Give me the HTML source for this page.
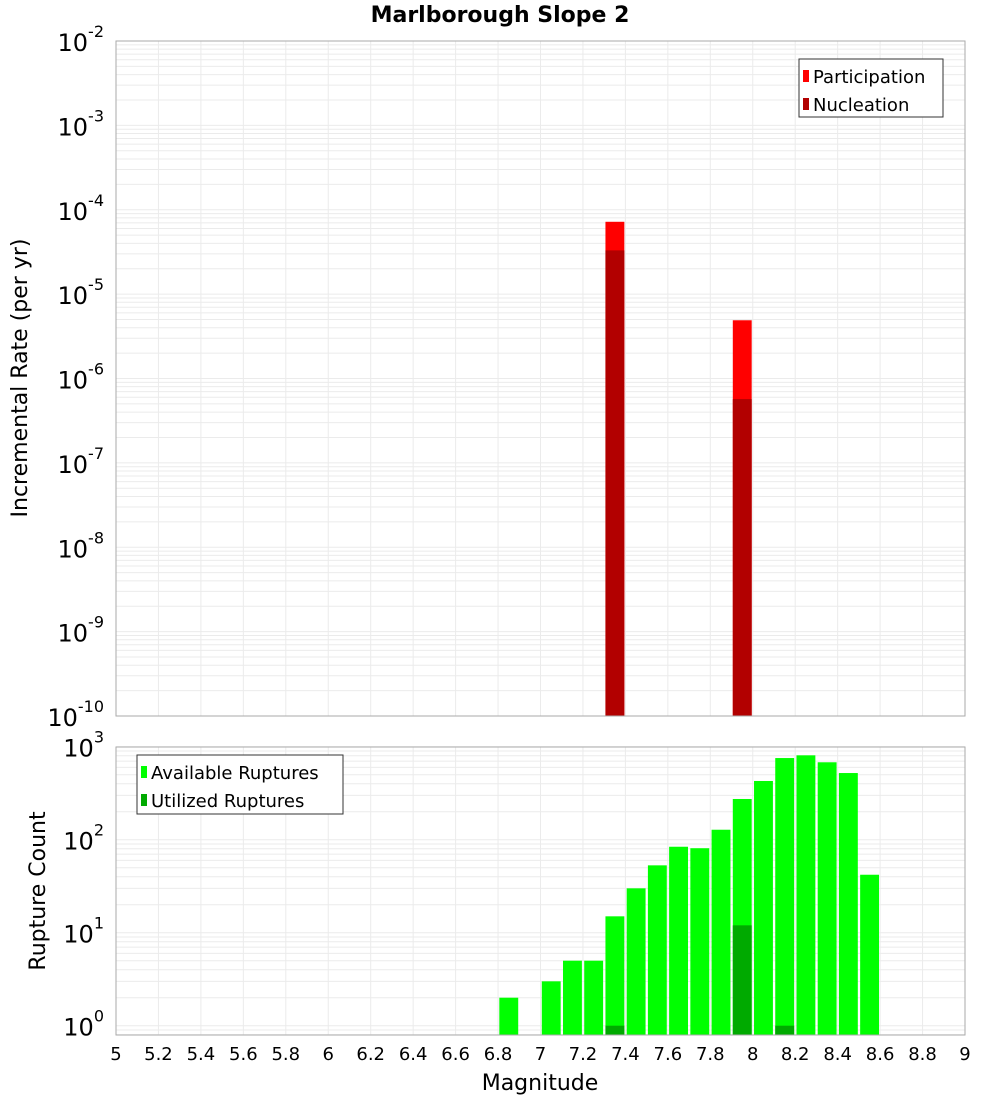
<!DOCTYPE html>
<html><head><meta charset="utf-8"><style>
body{margin:0;background:#fff;}
svg text{font-family:"DejaVu Sans","Liberation Sans",sans-serif;fill:#000;}
</style></head><body>
<svg id="c" width="1000" height="1100" xmlns="http://www.w3.org/2000/svg">
<rect width="1000" height="1100" fill="#fff"/>
<text x="500" y="22" text-anchor="middle" font-size="22" font-weight="bold">Marlborough Slope 2</text>
<text transform="translate(27,378) rotate(-90)" text-anchor="middle" font-size="22">Incremental Rate (per yr)</text>
<text transform="translate(45,891) rotate(-90)" text-anchor="middle" font-size="22">Rupture Count</text>
<text x="540" y="1090" text-anchor="middle" font-size="22">Magnitude</text>
<g id="g"></g>
</svg>
<script>
const rateMags=[7.35,7.95];
const participation=[7.2e-5,4.9e-6];
const nucleation=[3.3e-5,5.7e-7];
const countMags=[6.85,7.05,7.15,7.25,7.35,7.45,7.55,7.65,7.75,7.85,7.95,8.05,8.15,8.25,8.35,8.45,8.55];
const available=[2,3,5,5,15,30,53,84,81,128,274,428,755,808,680,521,42];
const utilizedMags=[7.35,7.95,8.15];
const utilized=[1,12,1];
const xTicks=[5,5.2,5.4,5.6,5.8,6,6.2,6.4,6.6,6.8,7,7.2,7.4,7.6,7.8,8,8.2,8.4,8.6,8.8,9];
const topExps=[-10,-9,-8,-7,-6,-5,-4,-3,-2];
const botExps=[0,1,2,3];

const NS="http://www.w3.org/2000/svg";
const g=document.getElementById('g');
function el(t,a,p){const e=document.createElementNS(NS,t);for(const k in a)e.setAttribute(k,a[k]);(p||g).appendChild(e);return e;}
const X0=116,X1=965;
const xs=m=>X0+(m-5)/(9-5)*(X1-X0);
const T0=41,T1=716;
const yTop=v=>T0+(-2-Math.log10(v))/8*(T1-T0);
const B0=746.7,DEC=93,BB=1035,BT=747;
const yBot=v=>B0+(3-Math.log10(v))*DEC;

function grid(yf,exps,top,bot){
  for(let i=0;i<exps.length;i++){
    for(let k=1;k<10;k++){
      const y=yf(k*Math.pow(10,exps[i]));
      if(y<top-0.5||y>bot+0.5)continue;
      const l=el('line',{x1:X0,x2:X1,y1:y,y2:y,stroke:'#ebebeb','stroke-width':1});
      
      
    }
  }
  xTicks.forEach(t=>{const x=xs(t);
    const l=el('line',{x1:x,x2:x,y1:top,y2:bot,stroke:'#ebebeb','stroke-width':1});
    
    });
}
grid(yTop,[-11,...topExps],T0,T1);
grid(yBot,[-1,...botExps],BT,BB);

function bar(m,v,yf,base,fill,name){
  const x=xs(m-0.044),w=xs(m+0.045)-x,y=yf(v);
  const r=el('rect',{x:x,y:y,width:w,height:base-y,fill:fill});
  
  
}
rateMags.forEach((m,i)=>bar(m,participation[i],yTop,T1,'#ff0000','participation-bar'));
rateMags.forEach((m,i)=>bar(m,nucleation[i],yTop,T1,'#b20000','nucleation-bar'));
countMags.forEach((m,i)=>bar(m,available[i],yBot,BB,'#00ff00','available-bar'));
utilizedMags.forEach((m,i)=>bar(m,utilized[i],yBot,BB,'#00aa00','utilized-bar'));

const f1=el('rect',{x:X0,y:T0,width:X1-X0,height:T1-T0,fill:'none',stroke:'#aaa'});


const f2=el('rect',{x:X0,y:BT,width:X1-X0,height:BB-BT,fill:'none',stroke:'#aaa'});



function ylab(y,e,name){
  const t=el('text',{x:104,y:y+10,'text-anchor':'end','font-size':24});
  
  
  t.textContent='10';
  const s=el('tspan',{dy:-14,'font-size':16},t);s.textContent=String(e);
}
topExps.forEach(e=>ylab(yTop(Math.pow(10,e)),e,'top-y-tick-label'));
botExps.forEach(e=>ylab(yBot(Math.pow(10,e)),e,'bottom-y-tick-label'));
xTicks.forEach(t=>{
  const tx=el('text',{x:xs(t),y:1060,'text-anchor':'middle','font-size':18});
  
  
  tx.textContent=String(t);
});

function legend(x,y,w,h,items,name){
  const lg=el('g',{});
  
  
  el('rect',{x:x,y:y,width:w,height:h,fill:'#fff',stroke:'#333','stroke-width':1},lg);
  items.forEach((it,i)=>{
    const cy=y+17+i*28;
    el('rect',{x:x+4,y:cy-6,width:6,height:12,fill:it[1]},lg);
    const t=el('text',{x:x+14,y:cy+7,'font-size':18},lg);
    
    
    t.textContent=it[0];
  });
}
legend(799,59,144,58,[['Participation','#ff0000'],['Nucleation','#b20000']],'top-legend');
legend(137,755,206,59,[['Available Ruptures','#00ff00'],['Utilized Ruptures','#00aa00']],'bottom-legend');
</script>
</body></html>
